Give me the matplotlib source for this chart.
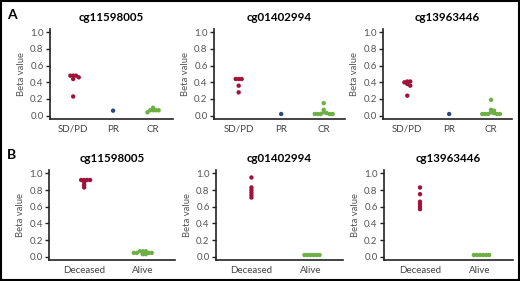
import numpy as np
import matplotlib.pyplot as plt
from matplotlib.patches import Rectangle

plt.rcParams['font.family'] = ['Lato', 'DejaVu Sans']

# ---- data (beta values) ----
probes = ['cg11598005', 'cg01402994', 'cg13963446']

resp_labels = ['SD/PD', 'PR', 'CR']
resp_sdpd = [
    [0.48, 0.48, 0.48, 0.46, 0.44, 0.23],
    [0.44, 0.44, 0.44, 0.36, 0.28],
    [0.41, 0.41, 0.40, 0.38, 0.36, 0.24],
]
resp_pr = [[0.06], [0.02], [0.02]]
resp_cr = [
    [0.095, 0.065, 0.065, 0.065, 0.065, 0.04],
    [0.15, 0.07, 0.04, 0.03, 0.02, 0.02, 0.02, 0.02, 0.02],
    [0.19, 0.07, 0.06, 0.04, 0.03, 0.02, 0.02, 0.02, 0.02, 0.02],
]

surv_labels = ['Deceased', 'Alive']
surv_dead = [
    [0.92, 0.92, 0.92, 0.92, 0.89, 0.86, 0.83],
    [0.95, 0.83, 0.80, 0.77, 0.74, 0.71],
    [0.83, 0.75, 0.66, 0.63, 0.60, 0.57],
]
surv_alive = [
    [0.065, 0.065, 0.065, 0.045, 0.045, 0.045, 0.045, 0.03, 0.03],
    [0.02, 0.02, 0.02, 0.02, 0.02, 0.02],
    [0.02, 0.02, 0.02, 0.02, 0.02, 0.02],
]

RED = '#a0123a'
BLUE = '#2b4a7c'
GREEN = '#6cb043'

W, H = 520, 281
fig = plt.figure(figsize=(W / 100, H / 100), dpi=100)
fig.patch.set_facecolor('white')


def px_axes(x0, y0, x1, y1):
    # pixel box (top-left origin) -> figure axes
    return fig.add_axes([x0 / W, 1 - y1 / H, (x1 - x0) / W, (y1 - y0) / H])


def swarm(vals, step, dy, gap=0.8):
    # simple beeswarm: move each point sideways (0, +s, -s, +2s, ...)
    # until it is far enough from the ones already placed
    placed = []
    offs = []
    for v in vals:
        k = 0
        while True:
            c = 0.0 if k == 0 else ((k + 1) // 2) * step * (1 if k % 2 else -1)
            if all(((c - px) / step) ** 2 + ((v - py) / dy) ** 2 >= gap ** 2 for px, py in placed):
                break
            k += 1
        placed.append((c, v))
        offs.append(c)
    return np.array(offs)


def style(ax, title, labels, xlim):
    ax.set_ylim(-0.04, 1.04)
    ax.set_xlim(*xlim)
    ax.set_yticks([0, 0.2, 0.4, 0.6, 0.8, 1.0])
    ax.set_yticklabels(['0.0', '0.2', '0.4', '0.6', '0.8', '1.0'])
    ax.set_xticks(range(len(labels)))
    ax.set_xticklabels(labels)
    for s in ['top', 'right']:
        ax.spines[s].set_visible(False)
    for s in ['left', 'bottom']:
        ax.spines[s].set_linewidth(1.2)
        ax.spines[s].set_color('#222222')
    ax.tick_params(axis='y', length=3, width=1, colors='#222222', labelcolor='#555555',
                   labelsize=7, pad=1.5)
    ax.tick_params(axis='x', length=0, labelcolor='#444444', labelsize=7, pad=4)
    ax.set_ylabel('Beta value', fontsize=6.8, color='#555555', labelpad=3)
    ax.set_title(title, fontsize=8.3, fontweight='bold', pad=6)
    ax.set_facecolor('none')


def draw(ax, groups, colors, step, dy):
    for i, (vals, c) in enumerate(zip(groups, colors)):
        vals = sorted(vals, reverse=True)
        offs = swarm(vals, step, dy)
        ax.scatter(i + offs, vals, s=10, color=c, edgecolors='none', zorder=3)


# panel A: response (40 px per category, 83 px per unit beta)
boxes_a = [(50, 29, 173, 119), (214, 29, 345, 119), (383, 29, 512, 119)]
for j in range(3):
    ax = px_axes(*boxes_a[j])
    style(ax, probes[j], resp_labels, (-0.58, 2.5))
    draw(ax, [resp_sdpd[j], resp_pr[j], resp_cr[j]], [RED, BLUE, GREEN], 2.8 / 40, 3.0 / 83)

# panel B: survival (59 px per category)
boxes_b = [(49, 170, 175, 260), (216, 170, 343, 260), (384, 170, 513, 260)]
for j in range(3):
    ax = px_axes(*boxes_b[j])
    style(ax, probes[j], surv_labels, (-0.6, 1.55))
    draw(ax, [surv_dead[j], surv_alive[j]], [RED, GREEN], 3.0 / 59, 3.0 / 83)

fig.text(7 / W, 1 - 15 / H, 'A', fontsize=10, fontweight='bold', va='center')
fig.text(7 / W, 1 - 155 / H, 'B', fontsize=10, fontweight='bold', va='center')

fig.add_artist(Rectangle((0.001, 0.002), 0.997, 0.995, transform=fig.transFigure,
                         fill=False, lw=1.5, ec='black'))

fig.savefig('out.png', dpi=100)
